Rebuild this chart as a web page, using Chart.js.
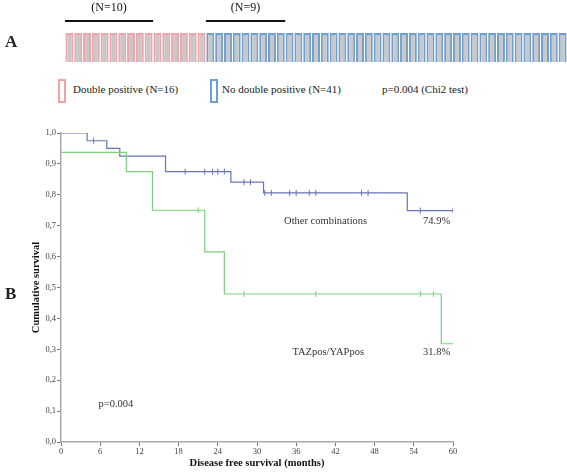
<!DOCTYPE html>
<html>
<head>
<meta charset="utf-8">
<script src="https://cdn.jsdelivr.net/npm/chart.js@4.4.1/dist/chart.umd.min.js"></script>
<style>
  body { margin: 0; background: #fff; font-family: "Liberation Serif", serif; color: #222; }
  #wrap { position: relative; width: 567px; height: 472px; overflow: hidden; }
  .abs { position: absolute; white-space: nowrap; }
  .panel { font-size: 17px; font-weight: bold; }
  .leg { font-size: 11px; }
  .box { position: absolute; width: 4px; height: 20px; border: 2px solid; background: #fff; }
</style>
</head>
<body>
<div id="wrap">
  <div style="position:absolute;left:0;top:0;width:567px;height:72px"><canvas id="strip"></canvas></div>
  <div style="position:absolute;left:0;top:110px;width:567px;height:362px"><canvas id="km"></canvas></div>
  <div class="abs panel" style="left:5px;top:32px">A</div>
  <div class="abs panel" style="left:5px;top:284px">B</div>
  <div class="box" style="left:58px;top:79px;border-color:#f0a4aa"></div>
  <div class="abs leg" style="left:73px;top:83px">Double positive (N=16)</div>
  <div class="box" style="left:210px;top:79px;border-color:#6f9fd2"></div>
  <div class="abs leg" style="left:222px;top:83px">No double positive (N=41)</div>
  <div class="abs leg" style="left:382px;top:83px">p=0.004 (Chi2 test)</div>
</div>
<script>
// panel A: one cell per patient
var groupNames = ["Double positive", "No double positive"];
var groupSizes = [16, 41];
var groupColors = ["#f0a4aa", "#6f9fd2"];
var bracketStart = [0, 16];
var bracketCount = [10, 9];
var bracketLabels = ["(N=10)", "(N=9)"];

// panel B: Kaplan-Meier steps (months, survival)
var otherTimes = [0, 4, 7, 9, 16, 26, 31, 53, 60];
var otherSurv = [1.0, 0.975, 0.95, 0.925, 0.875, 0.841, 0.806, 0.749, 0.749];
var otherCensTimes = [5, 19, 22, 23.2, 24, 25, 28, 29, 31.2, 32.2, 35, 36, 38, 39, 46, 47, 55, 60];
var otherCensSurv = [0.975, 0.875, 0.875, 0.875, 0.875, 0.875, 0.841, 0.841, 0.806, 0.806, 0.806, 0.806, 0.806, 0.806, 0.806, 0.806, 0.749, 0.749];

var tazTimes = [0, 10, 14, 22, 25, 58.2, 60];
var tazSurv = [0.9375, 0.875, 0.75, 0.615, 0.479, 0.318, 0.318];
var tazCensTimes = [21, 28, 39, 55, 57];
var tazCensSurv = [0.75, 0.479, 0.479, 0.479, 0.479];

var xTicks = [0, 6, 12, 18, 24, 30, 36, 42, 48, 54, 60];
var notes = [
  { text: "Other combinations", x: 40.5, y: 0.715 },
  { text: "74.9%", x: 57.5, y: 0.715 },
  { text: "TAZpos/YAPpos", x: 40.9, y: 0.29 },
  { text: "31.8%", x: 57.5, y: 0.29 },
  { text: "p=0.004", x: 8.4, y: 0.122 }
];

var serif = "'Liberation Serif', serif";

// strip of cells
var cellLabels = [], cellFill = [], cellBorder = [], cellVals = [];
groupSizes.forEach(function (n, g) {
  for (var i = 0; i < n; i++) {
    cellLabels.push(groupNames[g] + " " + (i + 1));
    cellVals.push(1);
    cellFill.push("#c8c8c8");
    cellBorder.push(groupColors[g]);
  }
});

var bracketPlugin = {
  id: "brackets",
  afterDraw: function (chart) {
    var ctx = chart.ctx, xs = chart.scales.x;
    var half = xs.width / cellLabels.length / 2;
    ctx.save();
    for (var i = 0; i < bracketStart.length; i++) {
      var a = xs.getPixelForValue(bracketStart[i]) - half;
      var b = xs.getPixelForValue(bracketStart[i] + bracketCount[i] - 1) + half;
      ctx.strokeStyle = "#111";
      ctx.lineWidth = 2;
      ctx.beginPath();
      ctx.moveTo(a, 21);
      ctx.lineTo(b, 21);
      ctx.stroke();
      ctx.fillStyle = "#111";
      ctx.font = "12px " + serif;
      ctx.textAlign = "center";
      ctx.textBaseline = "middle";
      ctx.fillText(bracketLabels[i], (a + b) / 2, 8);
    }
    ctx.restore();
  }
};

new Chart(document.getElementById("strip"), {
  type: "bar",
  data: {
    labels: cellLabels,
    datasets: [{
      data: cellVals,
      backgroundColor: cellFill,
      borderColor: cellBorder,
      borderWidth: 2,
      barPercentage: 0.9,
      categoryPercentage: 1
    }]
  },
  options: {
    responsive: true,
    maintainAspectRatio: false,
    animation: false,
    layout: { padding: { left: 65, right: 0, top: 33, bottom: 10 } },
    plugins: { legend: { display: false }, tooltip: { enabled: false } },
    scales: {
      x: { display: false },
      y: { display: false, min: 0, max: 1 }
    }
  },
  plugins: [bracketPlugin]
});

function pts(xs, ys) {
  return xs.map(function (x, i) { return { x: x, y: ys[i] }; });
}

var notePlugin = {
  id: "notes",
  afterDatasetsDraw: function (chart) {
    var ctx = chart.ctx;
    ctx.save();
    ctx.fillStyle = "#333";
    ctx.font = "10.5px " + serif;
    ctx.textAlign = "center";
    ctx.textBaseline = "middle";
    notes.forEach(function (n) {
      ctx.fillText(n.text, chart.scales.x.getPixelForValue(n.x), chart.scales.y.getPixelForValue(n.y));
    });
    ctx.restore();
  }
};

var blue = "#6674b8", green = "#7ccf7c";

new Chart(document.getElementById("km"), {
  type: "line",
  data: {
    datasets: [
      { data: pts(tazTimes, tazSurv), borderColor: green, borderWidth: 1.2, stepped: true, pointRadius: 0 },
      { data: pts(otherTimes, otherSurv), borderColor: blue, borderWidth: 1.2, stepped: true, pointRadius: 0 },
      { type: "scatter", data: pts(tazCensTimes, tazCensSurv), borderColor: green, borderWidth: 1,
        pointStyle: "line", rotation: 90, pointRadius: 3, showLine: false },
      { type: "scatter", data: pts(otherCensTimes, otherCensSurv), borderColor: blue, borderWidth: 1,
        pointStyle: "line", rotation: 90, pointRadius: 3, showLine: false }
    ]
  },
  options: {
    responsive: true,
    maintainAspectRatio: false,
    animation: false,
    layout: { padding: { left: 0, right: 114, top: 23, bottom: 0 } },
    plugins: { legend: { display: false }, tooltip: { enabled: false } },
    scales: {
      x: {
        type: "linear", min: 0, max: 60,
        afterBuildTicks: function (s) { s.ticks = xTicks.map(function (v) { return { value: v }; }); },
        afterFit: function (s) { s.height = 30; },
        border: { color: "#aaa", width: 1.5 },
        grid: { drawOnChartArea: false, tickLength: 4, color: "#777" },
        ticks: { color: "#444", font: { family: serif, size: 8.5 }, padding: 1, maxRotation: 0 },
        title: { display: true, text: "Disease free survival (months)", color: "#111",
          font: { family: serif, size: 10.5, weight: "bold" }, padding: { top: 0, bottom: 2 } }
      },
      y: {
        min: 0, max: 1,
        afterFit: function (s) { s.width = 61; },
        border: { color: "#aaa", width: 1.5 },
        grid: { drawOnChartArea: false, tickLength: 4, color: "#777" },
        ticks: { stepSize: 0.1, color: "#444", font: { family: serif, size: 8.5 }, padding: 1,
          callback: function (v) { return v.toFixed(1).replace(".", ","); } },
        title: { display: true, text: "Cumulative survival", color: "#111",
          font: { family: serif, size: 10.5, weight: "bold" }, padding: { top: 30, bottom: 0 } }
      }
    }
  },
  plugins: [notePlugin]
});
</script>
</body>
</html>
